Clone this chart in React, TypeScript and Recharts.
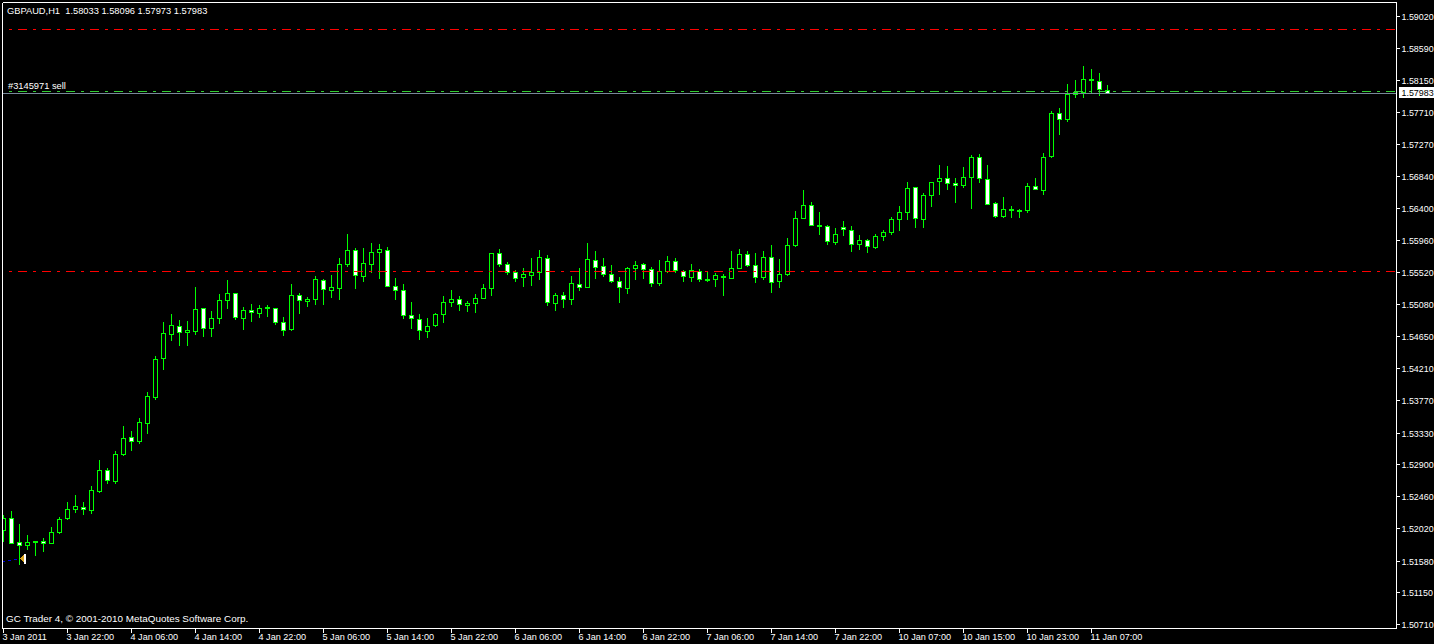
import { ComposedChart, Bar, XAxis, YAxis, ReferenceLine, ReferenceDot } from "recharts";

const opens = [
  1.51997, 1.52162, 1.51833, 1.51792, 1.51833, 1.51847, 1.5182, 1.5197, 1.52162, 1.52285,
  1.52312, 1.52271, 1.5253, 1.52818, 1.52667, 1.53036, 1.53269, 1.53214, 1.5346, 1.53815,
  1.54348, 1.54676, 1.54785, 1.54704, 1.54717, 1.55032, 1.54758, 1.54895, 1.55141, 1.55237,
  1.54895, 1.55004, 1.54963, 1.55032, 1.55032, 1.5484, 1.54745, 1.55209, 1.55127, 1.55155,
  1.55414, 1.55278, 1.55305, 1.55633, 1.55825, 1.55469, 1.55633, 1.55797, 1.55825, 1.55332,
  1.55278, 1.54936, 1.54881, 1.54717, 1.54799, 1.5495, 1.55114, 1.55155, 1.55073, 1.551,
  1.55169, 1.55305, 1.55783, 1.55633, 1.55524, 1.55455, 1.55483, 1.55524, 1.55715, 1.551,
  1.55209, 1.55155, 1.5536, 1.55319, 1.55688, 1.55606, 1.55496, 1.55401, 1.55305, 1.55579,
  1.55633, 1.55565, 1.55373, 1.55537, 1.55674, 1.55537, 1.55455, 1.55537, 1.55414, 1.55428,
  1.55455, 1.55442, 1.55579, 1.5577, 1.5562, 1.55455, 1.55729, 1.55401, 1.55496, 1.55893,
  1.56262, 1.5644, 1.56152, 1.56152, 1.55934, 1.56139, 1.56098, 1.55907, 1.55961, 1.55865,
  1.56016, 1.5607, 1.56248, 1.56344, 1.56686, 1.56248, 1.56576, 1.56768, 1.56809, 1.5674,
  1.56713, 1.56822, 1.57096, 1.56795, 1.56467, 1.56289, 1.56371, 1.56358, 1.56371, 1.56699,
  1.56645, 1.57109, 1.57697, 1.57615, 1.57957, 1.57984, 1.58148, 1.58134, 1.58011,
];
const highs = [
  1.52203, 1.52257, 1.52079, 1.51929, 1.51847, 1.51888, 1.52038, 1.52175, 1.5238, 1.52476,
  1.5238, 1.52599, 1.52954, 1.52845, 1.53077, 1.53419, 1.53351, 1.53528, 1.53884, 1.54376,
  1.5484, 1.5495, 1.54868, 1.54854, 1.55319, 1.55032, 1.54991, 1.55223, 1.55414, 1.55237,
  1.55045, 1.55086, 1.55073, 1.55073, 1.55032, 1.54909, 1.5536, 1.55237, 1.55182, 1.55469,
  1.55428, 1.55483, 1.55715, 1.56043, 1.55852, 1.55852, 1.5592, 1.55907, 1.55865, 1.55442,
  1.5536, 1.55114, 1.5495, 1.54895, 1.54963, 1.55196, 1.55278, 1.55196, 1.55127, 1.55223,
  1.5536, 1.55783, 1.55838, 1.5566, 1.55551, 1.55579, 1.55715, 1.55825, 1.55756, 1.55237,
  1.5525, 1.55469, 1.55579, 1.5592, 1.55811, 1.55715, 1.5562, 1.55455, 1.55592, 1.55674,
  1.55647, 1.55592, 1.55688, 1.55743, 1.55715, 1.55551, 1.55633, 1.55565, 1.55537, 1.5551,
  1.55496, 1.55811, 1.55838, 1.55811, 1.55783, 1.55811, 1.55893, 1.55702, 1.55989, 1.56358,
  1.56645, 1.56481, 1.56344, 1.56166, 1.56125, 1.56221, 1.56152, 1.56029, 1.55975, 1.56043,
  1.56098, 1.56275, 1.56426, 1.56754, 1.56686, 1.56604, 1.56754, 1.56986, 1.56973, 1.56809,
  1.56959, 1.57123, 1.57137, 1.56986, 1.56481, 1.56549, 1.56426, 1.56385, 1.5674, 1.56809,
  1.5715, 1.57724, 1.57765, 1.58093, 1.58148, 1.58339, 1.58298, 1.58244, 1.5808,
];
const lows = [
  1.51847, 1.5182, 1.51533, 1.51738, 1.51656, 1.5171, 1.5182, 1.51956, 1.52148, 1.52243,
  1.52216, 1.5223, 1.52517, 1.5264, 1.5264, 1.53023, 1.53091, 1.53187, 1.53323, 1.53788,
  1.54198, 1.54594, 1.54526, 1.54526, 1.54676, 1.54649, 1.54649, 1.54827, 1.55032, 1.54881,
  1.54745, 1.54854, 1.54909, 1.54923, 1.54813, 1.54663, 1.54731, 1.54963, 1.55059, 1.55086,
  1.55086, 1.55182, 1.55155, 1.55606, 1.55305, 1.55401, 1.55524, 1.55442, 1.55332, 1.55155,
  1.54895, 1.54758, 1.54608, 1.54635, 1.54785, 1.5484, 1.55059, 1.55004, 1.54991, 1.54977,
  1.55169, 1.55209, 1.55606, 1.55496, 1.55401, 1.55332, 1.55346, 1.55428, 1.55073, 1.55004,
  1.55045, 1.55086, 1.55278, 1.55319, 1.55442, 1.55469, 1.55387, 1.55114, 1.55237, 1.55428,
  1.55442, 1.55332, 1.55346, 1.55524, 1.55524, 1.55401, 1.55401, 1.55401, 1.55401, 1.55332,
  1.55209, 1.55442, 1.55579, 1.55606, 1.55387, 1.55428, 1.5525, 1.55319, 1.55483, 1.55879,
  1.56262, 1.56166, 1.56043, 1.55907, 1.55907, 1.56029, 1.55811, 1.55838, 1.55797, 1.55852,
  1.55961, 1.56043, 1.56098, 1.56248, 1.56139, 1.56139, 1.56426, 1.5659, 1.56658, 1.56481,
  1.56686, 1.56399, 1.56754, 1.56453, 1.56275, 1.56275, 1.56275, 1.56275, 1.56344, 1.56658,
  1.5659, 1.57096, 1.5741, 1.57588, 1.57916, 1.57916, 1.57984, 1.57943, 1.5797,
];
const closes = [
  1.52162, 1.5182, 1.51792, 1.51833, 1.51847, 1.5182, 1.5197, 1.52148, 1.52285, 1.52325,
  1.52285, 1.52544, 1.52818, 1.52681, 1.53036, 1.53255, 1.53214, 1.53474, 1.53829, 1.54335,
  1.5469, 1.54799, 1.54704, 1.54731, 1.55018, 1.54758, 1.54895, 1.55141, 1.55237, 1.54909,
  1.55004, 1.54977, 1.55032, 1.55045, 1.5484, 1.54731, 1.55209, 1.55141, 1.55155, 1.55428,
  1.55291, 1.55319, 1.55633, 1.55825, 1.55483, 1.55647, 1.55797, 1.55838, 1.55332, 1.55278,
  1.54936, 1.54895, 1.54731, 1.54785, 1.5495, 1.55114, 1.55155, 1.55086, 1.551, 1.55169,
  1.55305, 1.55783, 1.55633, 1.55524, 1.55442, 1.55496, 1.55524, 1.55729, 1.55114, 1.55209,
  1.55155, 1.55373, 1.55319, 1.55702, 1.55592, 1.55496, 1.55401, 1.55319, 1.55579, 1.5562,
  1.55565, 1.55373, 1.55537, 1.55674, 1.55551, 1.55469, 1.55551, 1.55428, 1.55428, 1.55483,
  1.55469, 1.55579, 1.5577, 1.5562, 1.55455, 1.55729, 1.55387, 1.55496, 1.55893, 1.56262,
  1.5644, 1.56166, 1.56166, 1.55948, 1.56043, 1.56111, 1.55907, 1.55961, 1.55879, 1.56016,
  1.5607, 1.56248, 1.56344, 1.56672, 1.56262, 1.56576, 1.56754, 1.56809, 1.5674, 1.56713,
  1.56822, 1.57096, 1.56809, 1.56453, 1.56289, 1.56385, 1.56385, 1.56371, 1.56699, 1.56658,
  1.57096, 1.57697, 1.57615, 1.57957, 1.57984, 1.58162, 1.58162, 1.58025, 1.5797,
];

const priceTicks = [
  1.5902, 1.5859, 1.5815, 1.5771, 1.5727, 1.5684, 1.564, 1.5596, 1.5552, 1.5508,
  1.5465, 1.5421, 1.5377, 1.5333, 1.529, 1.5246, 1.5202, 1.5158, 1.5115, 1.5071,
];
const timeLabels = [
  "3 Jan 2011", "3 Jan 22:00", "4 Jan 06:00", "4 Jan 14:00", "4 Jan 22:00", "5 Jan 06:00",
  "5 Jan 14:00", "5 Jan 22:00", "6 Jan 06:00", "6 Jan 14:00", "6 Jan 22:00", "7 Jan 06:00",
  "7 Jan 14:00", "7 Jan 22:00", "10 Jan 07:00", "10 Jan 15:00", "10 Jan 23:00", "11 Jan 07:00",
];
const timeTicks = timeLabels.map((_, i) => i * 8);

const priceMin = 1.50658;
const priceMax = 1.59214;
const indexMin = -0.125;
const indexMax = 174.125;

const redLevels = [1.58845, 1.55537];
const sellLevel = 1.57998;
const bidLevel = 1.5797;
const lastPrice = "1.57983";
const tradeEntry = 1.51612;
const tradePath = [
  { x: -0.125, y: 1.51576 },
  { x: 1.9, y: 1.51608 },
];

const FONT = '"Liberation Sans", Arial, sans-serif';

const data = opens.map((open, index) => ({
  index,
  open,
  high: highs[index],
  low: lows[index],
  close: closes[index],
}));

function Candle(props: any) {
  const { x, y, width, height, payload } = props;
  const { open, high, low, close } = payload;
  const cx = Math.floor(x + width / 2) + 0.5;
  const pxPerUnit = height / (high - low);
  const row = (p: number) => Math.floor(y + (high - p) * pxPerUnit);
  const top = row(Math.max(open, close));
  const bottom = row(Math.min(open, close));
  return (
    <g shapeRendering="crispEdges">
      <line x1={cx} x2={cx} y1={row(high)} y2={row(low) + 1} stroke="#00ff00" />
      <rect
        x={cx - 2}
        y={top + 0.5}
        width={4}
        height={bottom - top}
        fill={close < open ? "#ffffff" : "#000000"}
        stroke="#00ff00"
      />
    </g>
  );
}

function TimeTick(props: any) {
  const { x, payload } = props;
  return (
    <text x={x - 1} y={640} fill="#fff" fontSize={9.1} fontFamily={FONT}>
      {timeLabels[payload.value / 8]}
    </text>
  );
}

function PriceTick(props: any) {
  const { y, payload } = props;
  return (
    <text x={1401.5} y={Math.floor(y) + 4} fill="#fff" fontSize={8.9} fontFamily={FONT}>
      {payload.value.toFixed(5)}
    </text>
  );
}

function PriceTag(props: any) {
  const { viewBox } = props;
  const row = Math.floor(viewBox.y);
  return (
    <g>
      <rect x={1399} y={row - 6} width={35} height={11} fill="#fff" shapeRendering="crispEdges" />
      <text x={1401.5} y={row + 3} fill="#000" fontSize={8.9} fontFamily={FONT}>
        {lastPrice}
      </text>
    </g>
  );
}

function TradeArrow(props: any) {
  const { cx, cy } = props;
  return (
    <g shapeRendering="crispEdges">
      <polygon points={`${cx - 3},${cy} ${cx + 2},${cy - 4} ${cx + 2},${cy + 4}`} fill="#daa520" />
      <rect x={cx + 1} y={cy - 5} width={2} height={10} fill="#fff" />
    </g>
  );
}

const overlayText = {
  position: "absolute",
  color: "#fff",
  fontFamily: FONT,
  fontSize: 9.3,
  lineHeight: "12px",
  whiteSpace: "pre",
} as const;

export default function App() {
  return (
    <div style={{ position: "absolute", left: 0, top: 0, width: 1434, height: 644, background: "#000", overflow: "hidden" }}>
      <ComposedChart
        width={1434}
        height={644}
        data={data}
        margin={{ top: 2.5, left: 2.5, right: 0, bottom: 0 }}
      >
        <XAxis
          type="number"
          dataKey="index"
          domain={[indexMin, indexMax]}
          allowDataOverflow
          ticks={timeTicks}
          interval={0}
          height={15.5}
          tickSize={4}
          stroke="#fff"
          tick={TimeTick}
          shapeRendering="crispEdges"
        />
        <YAxis
          orientation="right"
          domain={[priceMin, priceMax]}
          allowDataOverflow
          ticks={priceTicks}
          interval={0}
          width={37.5}
          tickSize={3}
          stroke="#fff"
          tick={PriceTick}
          shapeRendering="crispEdges"
        />
        <ReferenceLine y={priceMax} stroke="#fff" shapeRendering="crispEdges" />
        <ReferenceLine x={indexMin} stroke="#fff" shapeRendering="crispEdges" />
        {redLevels.map((level) => (
          <ReferenceLine
            key={level}
            y={level}
            stroke="#ff0000"
            strokeDasharray="9 6 3 6"
            strokeDashoffset={-2}
            shapeRendering="crispEdges"
          />
        ))}
        <ReferenceLine
          y={sellLevel}
          stroke="#32cd32"
          strokeDasharray="9 6 3 6"
          strokeDashoffset={-2}
          shapeRendering="crispEdges"
        />
        <ReferenceLine y={bidLevel} stroke="#778899" shapeRendering="crispEdges" label={<PriceTag />} />
        <ReferenceLine
          segment={tradePath}
          stroke="#0000dd"
          strokeDasharray="3 3"
          shapeRendering="crispEdges"
        />
        <Bar
          dataKey={(d: any) => [d.low, d.high]}
          barSize={8}
          shape={Candle}
          isAnimationActive={false}
        />
        <ReferenceDot x={2.375} y={tradeEntry} shape={TradeArrow} />
      </ComposedChart>
      <div style={{ ...overlayText, left: 7, top: 5 }}>GBPAUD,H1  1.58033 1.58096 1.57973 1.57983</div>
      <div style={{ ...overlayText, left: 8, top: 80 }}>#3145971 sell</div>
      <div style={{ ...overlayText, left: 6, top: 613, fontSize: 9.9 }}>GC Trader 4, © 2001-2010 MetaQuotes Software Corp.</div>
    </div>
  );
}
